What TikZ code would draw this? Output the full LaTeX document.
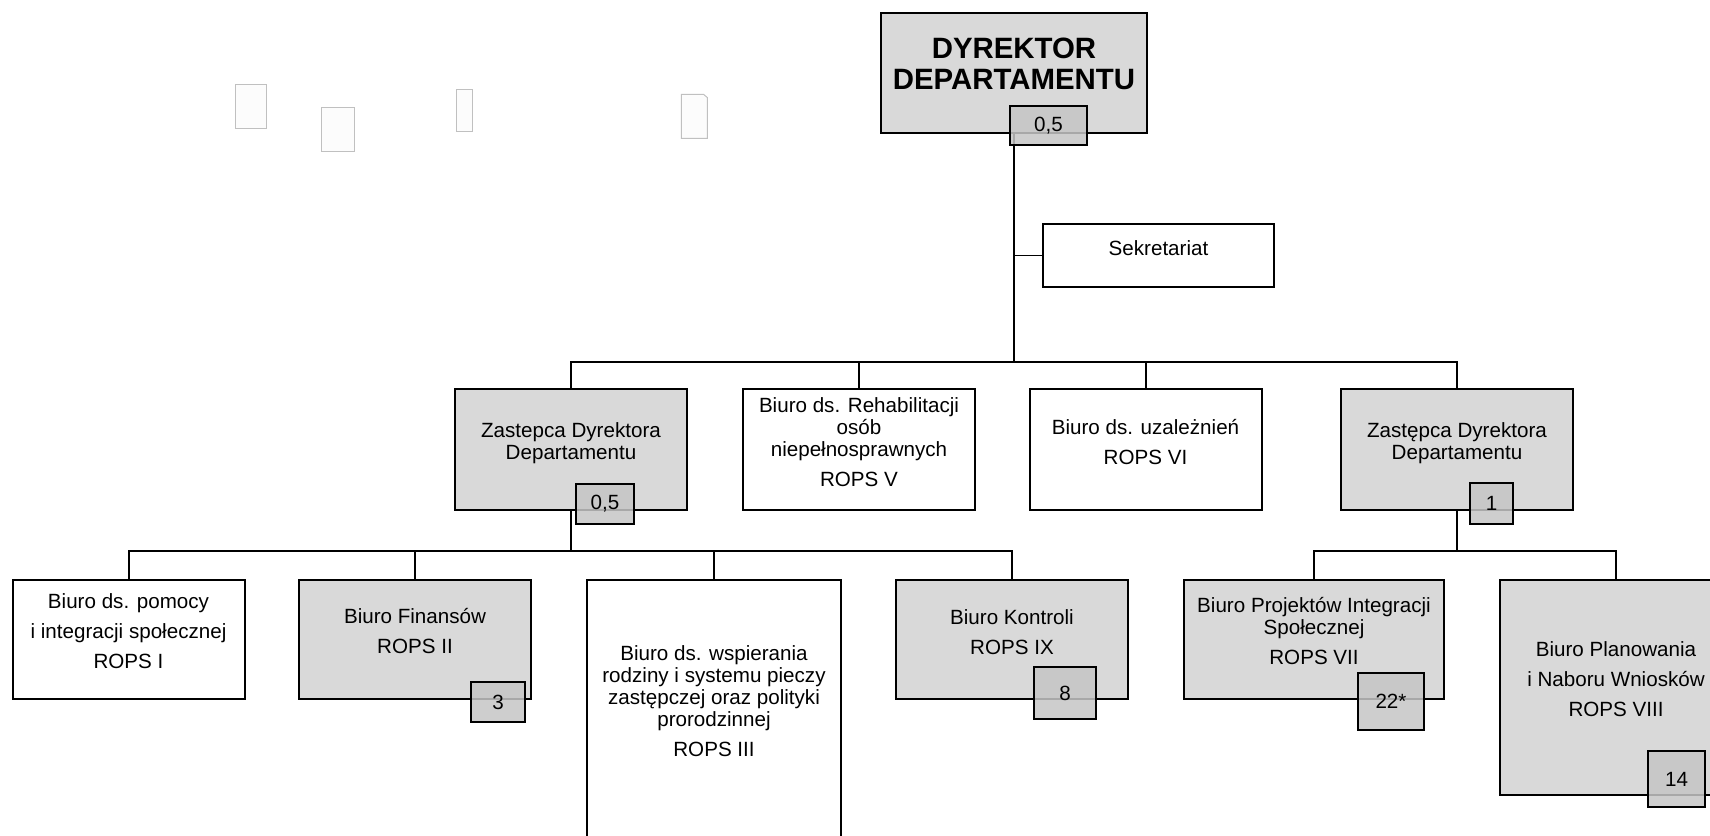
\documentclass[tikz,border=0pt]{standalone}
\usepackage{fontspec}
\setmainfont{Liberation Sans}
\usetikzlibrary{positioning}

\definecolor{boxgray}{HTML}{D9D9D9}
\definecolor{badgegray}{HTML}{C6C6C6}
\definecolor{ghostline}{HTML}{C0C0C0}

\begin{document}
\begin{tikzpicture}[x=0.5pt,y=-0.5pt,
  unit/.style={rectangle,draw,line width=1pt,inner sep=0pt},
  graybox/.style={unit,fill=boxgray},
  whitebox/.style={unit,fill=white},
  level1/.style={minimum width=116pt,minimum height=60.5pt},
  level2/.style={minimum width=116pt,minimum height=59.5pt},
  badge/.style={rectangle,draw,line width=1pt,fill=badgegray,fill opacity=0.85,text opacity=1,
    inner sep=0pt,font=\fontsize{10.3}{11}\selectfont},
  txt/.style={align=center,inner sep=0pt,font=\fontsize{10.3}{11}\selectfont},
  link/.style={line width=1pt},
  ghostbox/.style={draw=ghostline,line width=0.5pt,fill=white!99!black}]
  \useasboundingbox (0,0) rectangle (1710,836);

  \draw[ghostbox] (235.7,84.3) rectangle (266.3,128.3);
  \draw[ghostbox] (321.3,107.3) rectangle (354.3,151);
  \draw[ghostbox] (456,89.3) rectangle (472.3,131.3);
  \draw[ghostbox] (681.3,94.3) -- (703.5,94.3) -- (707.3,97.5) -- (707.3,138.3) -- (681.3,138.3) -- cycle;

  \node[graybox,minimum width=133pt,minimum height=60pt] (dir) at (1014,73) {};
  \node[whitebox,minimum width=115.5pt,minimum height=31.5pt] (sek) at (1158.5,255.5) {};

  \node[graybox,level1] (zL) at (571,449.5) {};
  \node[whitebox,level1] (rehab) at (859,449.5) {};
  \node[whitebox,level1] (uzal) at (1145.5,449.5) {};
  \node[graybox,level1] (zR) at (1457,449.5) {};

  \node[whitebox,level2] (r1) at (128.5,639.5) {};
  \node[graybox,level2] (r2) at (415,639.5) {};
  \node[whitebox,minimum width=127pt,minimum height=160pt] (r3) at (714,740) {};
  \node[graybox,level2] (r9) at (1012,639.5) {};
  \node[graybox,level2,minimum width=130pt] (r7) at (1314,639.5) {};
  \node[graybox,minimum width=115.5pt,minimum height=107.5pt] (r8) at (1615.5,687.5) {};

  \coordinate (top) at (1014,362);
  \coordinate (busL) at (571,551);
  \coordinate (busR) at (1457,551);

  \draw[link,line width=1.4pt] (dir.south) -- (top);
  \draw[link,line width=0.7pt] (sek.west) -- (sek.west -| dir.south);
  \draw[link] (zL.north) |- (top) -| (zR.north);
  \draw[link] (rehab.north) -- (rehab.north |- top);
  \draw[link] (uzal.north) -- (uzal.north |- top);

  \draw[link] (zL.south) -- (busL);
  \draw[link] (r1.north) |- (busL) -| (r9.north);
  \draw[link] (r2.north) -- (r2.north |- busL);
  \draw[link] (r3.north) -- (r3.north |- busL);

  \draw[link] (zR.south) -- (busR);
  \draw[link] (r7.north) |- (busR) -| (r8.north);

  \node[badge,minimum width=38.5pt,minimum height=19.5pt] (dir-n) at (1048.5,125.5) {0,5};
  \node[badge,minimum width=29pt,minimum height=20pt] (zL-n) at (605,504) {0,5};
  \node[badge,minimum width=21.5pt,minimum height=20.5pt] (zR-n) at (1491.5,503.5) {1};
  \node[badge,minimum width=27pt,minimum height=20pt] (r2-n) at (498,702) {3};
  \node[badge,minimum width=31pt,minimum height=26pt] (r9-n) at (1065,693) {8};
  \node[badge,minimum width=33pt,minimum height=28.5pt] (r7-n) at (1391,701.5) {22*};
  \node[badge,minimum width=28.5pt,minimum height=28pt] (r8-n) at (1676.5,779) {14};

  \node[txt,font=\bfseries\fontsize{14.7}{15.5}\selectfont] (dir-t) at (1014,64) {DYREKTOR\\DEPARTAMENTU};
  \node[txt] (sek-t) at (1158.5,248) {Sekretariat};
  \node[txt] (zL-t) at (571,443) {Zastepca Dyrektora\\Departamentu};
  \node[txt] (rehab-t) at (859,442) {Biuro ds. Rehabilitacji\\osób\\niepełnosprawnych\\[4pt]ROPS V};
  \node[txt] (uzal-t) at (1145.5,442) {Biuro ds. uzależnień\\[4pt]ROPS VI};
  \node[txt] (zR-t) at (1457,443) {Zastępca Dyrektora\\Departamentu};
  \node[txt] (r1-t) at (128.5,631) {Biuro ds. pomocy\\[4pt]i integracji społecznej\\[4pt]ROPS I};
  \node[txt] (r2-t) at (415,631) {Biuro Finansów\\[4pt]ROPS II};
  \node[txt] (r3-t) at (714,701) {Biuro ds. wspierania\\rodziny i systemu pieczy\\zastępczej oraz polityki\\prorodzinnej\\[4pt]ROPS III};
  \node[txt] (r9-t) at (1012,632) {Biuro Kontroli\\[4pt]ROPS IX};
  \node[txt] (r7-t) at (1314,631) {Biuro Projektów Integracji\\Społecznej\\[4pt]ROPS VII};
  \node[txt] (r8-t) at (1616,679) {Biuro Planowania\\[4pt]i Naboru Wniosków\\[4pt]ROPS VIII};
\end{tikzpicture}
\end{document}
